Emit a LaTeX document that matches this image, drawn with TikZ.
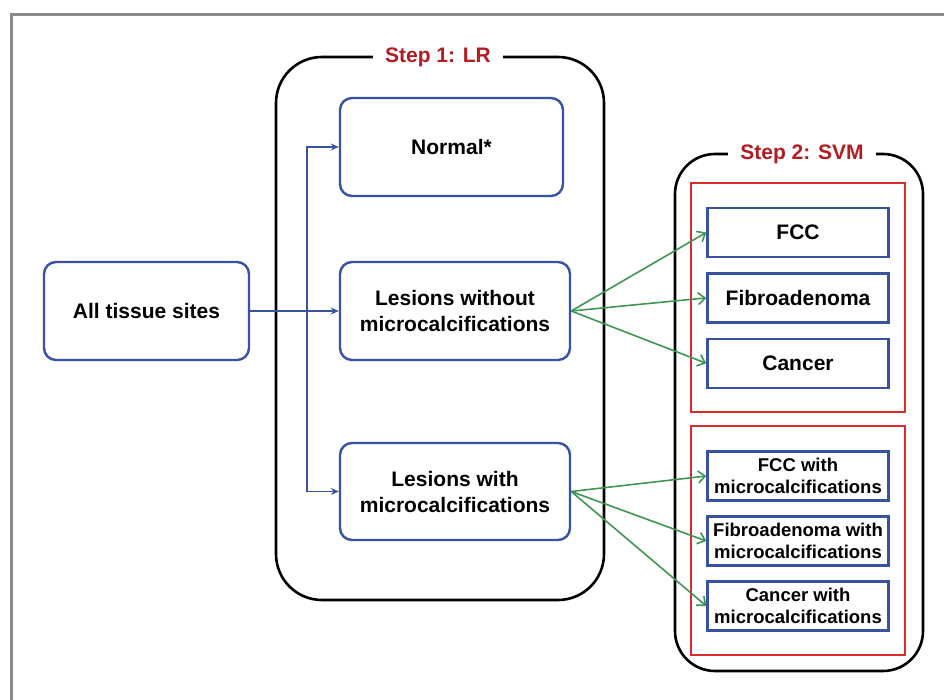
\documentclass[tikz,border=0pt]{standalone}
\usepackage{fontspec}
\setmainfont{Liberation Sans}
\usepackage{xcolor}
\usetikzlibrary{arrows.meta, positioning, calc}
\definecolor{azul}{RGB}{57,83,164}
\definecolor{verde}{RGB}{62,150,82}
\definecolor{vermelho}{RGB}{218,42,42}
\definecolor{rotulo}{RGB}{178,28,34}
\definecolor{cinza}{RGB}{138,138,138}
\begin{document}
\begin{tikzpicture}[x=1pt, y=-1pt,
    caixa/.style={draw=azul, line width=2.4pt, rounded corners=12pt, minimum height=98pt, align=center, font=\bfseries\fontsize{21}{26}\selectfont},
    classe/.style={draw=azul, line width=2.4pt, minimum width=181pt, minimum height=49pt, inner sep=0pt, align=center, font=\bfseries\fontsize{21}{24}\selectfont},
    classe2/.style={classe, font=\bfseries\fontsize{18.5}{22}\selectfont},
    etapa/.style={fill=white, text=rotulo, inner xsep=12pt, font=\bfseries\fontsize{21}{24}\selectfont},
    seta/.style={azul, line width=1.8pt, -{Stealth[length=8pt, width=7pt]}},
    ramo/.style={verde, line width=1.6pt, -{Straight Barb[length=7pt, width=12pt]}}]
    \useasboundingbox (0,0) rectangle (944,700);
    \draw[cinza, line width=3pt] (11,700) -- (11,14.5) -- (944,14.5);
    \draw[line width=2.6pt, rounded corners=46pt] (276,57) rectangle (604,600);
    \draw[line width=2.6pt, rounded corners=40pt] (675,154) rectangle (923,671);
    \node[etapa] (s1) at (438,57) {Step 1: LR};
    \node[etapa] (s2) at (802,154) {Step 2: SVM};
    \draw[vermelho, line width=2pt] (691,183) rectangle (905,412);
    \draw[vermelho, line width=2pt] (691,426) rectangle (905,655);

    \node[caixa, minimum width=205pt] (all) at (146.5,311) {All tissue sites};
    \node[caixa, minimum width=223pt] (norm) at (451.5,147) {Normal*};
    \node[caixa, minimum width=230pt] (lwo) at (455,311) {Lesions without\\microcalcifications};
    \node[caixa, minimum width=230pt, minimum height=97pt] (lw) at (455,491.5) {Lesions with\\microcalcifications};

    \node[classe] (fcc) at (798,232.5) {FCC};
    \node[classe, below=14pt of fcc] (fib) {Fibroadenoma};
    \node[classe, below=14pt of fib] (can) {Cancer};
    \node[classe2] (fccm) at (798,476) {FCC with\\microcalcifications};
    \node[classe2, below=13.6pt of fccm] (fibm) {Fibroadenoma with\\microcalcifications};
    \node[classe2, below=13.6pt of fibm] (canm) {Cancer with\\microcalcifications};

    \coordinate (tronco) at (307,311);
    \draw[seta] (all.east) -- (lwo.west);
    \draw[seta] (tronco) |- (norm.west);
    \draw[seta] (tronco) |- (lw.west);
    \foreach \c in {fcc,fib,can} \draw[ramo] (lwo.east) -- (\c.west);
    \foreach \c in {fccm,fibm,canm} \draw[ramo] (lw.east) -- (\c.west);
\end{tikzpicture}
\end{document}
